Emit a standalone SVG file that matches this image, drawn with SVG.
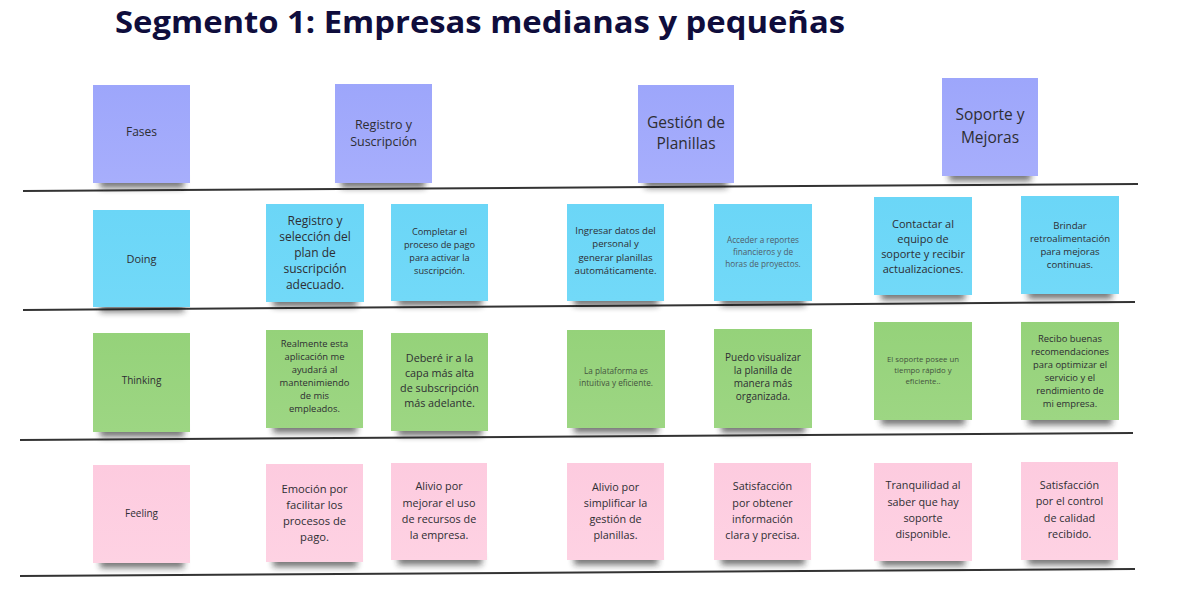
<svg xmlns="http://www.w3.org/2000/svg" width="1179" height="592" viewBox="0 0 1179 592">
<defs>
<filter id="sh" x="-20%" y="-100%" width="140%" height="300%"><feGaussianBlur stdDeviation="3"/></filter>
<linearGradient id="gp" x1="0" y1="0" x2="0" y2="1"><stop offset="0" stop-color="#9da6fb"/><stop offset="1" stop-color="#a7aefc"/></linearGradient>
<linearGradient id="gd" x1="0" y1="0" x2="0" y2="1"><stop offset="0" stop-color="#6bd6f7"/><stop offset="1" stop-color="#72d9f8"/></linearGradient>
<linearGradient id="gt" x1="0" y1="0" x2="0" y2="1"><stop offset="0" stop-color="#95d27a"/><stop offset="1" stop-color="#9dd683"/></linearGradient>
<linearGradient id="gf" x1="0" y1="0" x2="0" y2="1"><stop offset="0" stop-color="#fdcbdf"/><stop offset="1" stop-color="#fed2e3"/></linearGradient>
</defs>
<style>
.title{font-family:"Open Sans","Liberation Sans",sans-serif;font-weight:700;font-size:31px;fill:#0f0d3c}
.t{font-family:"Open Sans","Liberation Sans",sans-serif;fill:#2e2e33;text-anchor:middle}
.sd{fill:#1e1e1e;opacity:.6;filter:url(#sh)}
.ph{fill:url(#gp)}
.do{fill:url(#gd)}
.th{fill:url(#gt)}
.fe{fill:url(#gf)}
.ln{stroke:#333;stroke-width:2;fill:none}
</style>
<rect width="1179" height="592" fill="#fff"/>
<text class="title" x="115" y="33" textLength="730" lengthAdjust="spacingAndGlyphs">Segmento 1: Empresas medianas y pequeñas</text>

<g id="connectors">
<line class="ln" x1="23" y1="191" x2="1138" y2="184"/>
<line class="ln" x1="23" y1="310" x2="1135" y2="302"/>
<line class="ln" x1="20" y1="440" x2="1133" y2="433"/>
<line class="ln" x1="20" y1="576" x2="1135" y2="569"/>
</g>

<!-- Header row -->
<g id="fases"><rect class="sd" x="100" y="176" width="84" height="12"/><rect class="ph" x="93" y="85" width="97" height="98"/>
<text class="t" font-size="12"><tspan x="141.5" y="136">Fases</tspan></text></g>
<g id="registro"><rect class="sd" x="341" y="176" width="84" height="12"/><rect class="ph" x="335" y="84" width="97" height="99"/>
<text class="t" font-size="12.5"><tspan x="383.5" y="129">Registro y</tspan><tspan x="383.5" y="146">Suscripción</tspan></text></g>
<g id="gestion"><rect class="sd" x="645" y="176" width="82" height="12"/><rect class="ph" x="638" y="85" width="96" height="98"/>
<text class="t" font-size="15.5"><tspan x="686" y="128">Gestión de</tspan><tspan x="686" y="149">Planillas</tspan></text></g>
<g id="soporte"><rect class="sd" x="949" y="169" width="82" height="12"/><rect class="ph" x="942" y="78" width="96" height="98"/>
<text class="t" font-size="15.5"><tspan x="990" y="120">Soporte y</tspan><tspan x="990" y="143">Mejoras</tspan></text></g>

<!-- Doing row -->
<g id="doing"><rect class="sd" x="100" y="300" width="84" height="12"/><rect class="do" x="93" y="210" width="97" height="97"/>
<text class="t" font-size="11"><tspan x="141.5" y="263">Doing</tspan></text></g>
<g id="d1"><rect class="sd" x="273" y="295" width="84" height="12"/><rect class="do" x="266" y="204" width="98" height="98"/>
<text class="t" font-size="12"><tspan x="315" y="225">Registro y</tspan><tspan x="315" y="241">selección del</tspan><tspan x="315" y="257">plan de</tspan><tspan x="315" y="273">suscripción</tspan><tspan x="315" y="289">adecuado.</tspan></text></g>
<g id="d2"><rect class="sd" x="398" y="294" width="84" height="12"/><rect class="do" x="391" y="204" width="97" height="97"/>
<text class="t" font-size="9.2"><tspan x="439.5" y="235">Completar el</tspan><tspan x="439.5" y="248">proceso de pago</tspan><tspan x="439.5" y="261">para activar la</tspan><tspan x="439.5" y="274">suscripción.</tspan></text></g>
<g id="d3"><rect class="sd" x="574" y="294" width="84" height="12"/><rect class="do" x="567" y="204" width="97" height="97"/>
<text class="t" font-size="9.6"><tspan x="615.5" y="234">Ingresar datos del</tspan><tspan x="615.5" y="247">personal y</tspan><tspan x="615.5" y="261">generar planillas</tspan><tspan x="615.5" y="274">automáticamente.</tspan></text></g>
<g id="d4"><rect class="sd" x="721" y="294" width="84" height="12"/><rect class="do" x="714" y="204" width="98" height="97"/>
<text class="t" font-size="8.2" style="fill:#4f5d68"><tspan x="763" y="243">Acceder a reportes</tspan><tspan x="763" y="255">financieros y de</tspan><tspan x="763" y="267">horas de proyectos.</tspan></text></g>
<g id="d5"><rect class="sd" x="881" y="288" width="84" height="12"/><rect class="do" x="874" y="197" width="98" height="98"/>
<text class="t" font-size="11"><tspan x="923" y="228">Contactar al</tspan><tspan x="923" y="243">equipo de</tspan><tspan x="923" y="258">soporte y recibir</tspan><tspan x="923" y="273">actualizaciones.</tspan></text></g>
<g id="d6"><rect class="sd" x="1028" y="287" width="84" height="12"/><rect class="do" x="1021" y="196" width="98" height="98"/>
<text class="t" font-size="9.6"><tspan x="1070" y="229">Brindar</tspan><tspan x="1070" y="242">retroalimentación</tspan><tspan x="1070" y="255">para mejoras</tspan><tspan x="1070" y="268">continuas.</tspan></text></g>

<!-- Thinking row -->
<g id="thinking"><rect class="sd" x="100" y="425" width="84" height="12"/><rect class="th" x="93" y="333" width="97" height="99"/>
<text class="t" font-size="10"><tspan x="141.5" y="384">Thinking</tspan></text></g>
<g id="t1"><rect class="sd" x="273" y="421" width="84" height="12"/><rect class="th" x="266" y="330" width="97" height="98"/>
<text class="t" font-size="9.4"><tspan x="314.5" y="347">Realmente esta</tspan><tspan x="314.5" y="360">aplicación me</tspan><tspan x="314.5" y="373">ayudará al</tspan><tspan x="314.5" y="386">mantenimiendo</tspan><tspan x="314.5" y="399">de mis</tspan><tspan x="314.5" y="412">empleados.</tspan></text></g>
<g id="t2"><rect class="sd" x="398" y="424" width="84" height="12"/><rect class="th" x="391" y="333" width="97" height="98"/>
<text class="t" font-size="10.8"><tspan x="439.5" y="362">Deberé ir a la</tspan><tspan x="439.5" y="377">capa más alta</tspan><tspan x="439.5" y="392">de subscripción</tspan><tspan x="439.5" y="407">más adelante.</tspan></text></g>
<g id="t3"><rect class="sd" x="574" y="421" width="84" height="12"/><rect class="th" x="567" y="330" width="98" height="98"/>
<text class="t" font-size="8.2" style="fill:#44533e"><tspan x="616" y="374">La plataforma es</tspan><tspan x="616" y="386">intuitiva y eficiente.</tspan></text></g>
<g id="t4"><rect class="sd" x="721" y="421" width="84" height="12"/><rect class="th" x="714" y="329" width="98" height="99"/>
<text class="t" font-size="10"><tspan x="763" y="361">Puedo visualizar</tspan><tspan x="763" y="374">la planilla de</tspan><tspan x="763" y="387">manera más</tspan><tspan x="763" y="400">organizada.</tspan></text></g>
<g id="t5"><rect class="sd" x="881" y="413" width="84" height="12"/><rect class="th" x="874" y="322" width="98" height="98"/>
<text class="t" font-size="7.8" style="fill:#44533e"><tspan x="923" y="362">El soporte posee un</tspan><tspan x="923" y="373">tiempo rápido y</tspan><tspan x="923" y="384">eficiente..</tspan></text></g>
<g id="t6"><rect class="sd" x="1028" y="413" width="84" height="12"/><rect class="th" x="1021" y="322" width="98" height="98"/>
<text class="t" font-size="9.4"><tspan x="1070" y="342">Recibo buenas</tspan><tspan x="1070" y="355">recomendaciones</tspan><tspan x="1070" y="368">para optimizar el</tspan><tspan x="1070" y="381">servicio y el</tspan><tspan x="1070" y="394">rendimiento de</tspan><tspan x="1070" y="407">mi empresa.</tspan></text></g>

<!-- Feeling row -->
<g id="feeling"><rect class="sd" x="100" y="556" width="84" height="12"/><rect class="fe" x="93" y="465" width="97" height="98"/>
<text class="t" font-size="10"><tspan x="141.5" y="517">Feeling</tspan></text></g>
<g id="f1"><rect class="sd" x="273" y="555" width="84" height="12"/><rect class="fe" x="266" y="464" width="97" height="98"/>
<text class="t" font-size="11.2"><tspan x="314.5" y="493">Emoción por</tspan><tspan x="314.5" y="509">facilitar los</tspan><tspan x="314.5" y="525">procesos de</tspan><tspan x="314.5" y="541">pago.</tspan></text></g>
<g id="f2"><rect class="sd" x="398" y="553" width="84" height="12"/><rect class="fe" x="391" y="463" width="96" height="97"/>
<text class="t" font-size="10.8"><tspan x="439" y="490">Alivio por</tspan><tspan x="439" y="507">mejorar el uso</tspan><tspan x="439" y="523">de recursos de</tspan><tspan x="439" y="539">la empresa.</tspan></text></g>
<g id="f3"><rect class="sd" x="574" y="553" width="84" height="12"/><rect class="fe" x="567" y="463" width="97" height="97"/>
<text class="t" font-size="10.8"><tspan x="615.5" y="491">Alivio por</tspan><tspan x="615.5" y="507">simplificar la</tspan><tspan x="615.5" y="523">gestión de</tspan><tspan x="615.5" y="539">planillas.</tspan></text></g>
<g id="f4"><rect class="sd" x="721" y="553" width="84" height="12"/><rect class="fe" x="714" y="463" width="97" height="97"/>
<text class="t" font-size="10.8"><tspan x="762.5" y="490">Satisfacción</tspan><tspan x="762.5" y="507">por obtener</tspan><tspan x="762.5" y="523">información</tspan><tspan x="762.5" y="539">clara y precisa.</tspan></text></g>
<g id="f5"><rect class="sd" x="881" y="554" width="84" height="12"/><rect class="fe" x="874" y="463" width="98" height="98"/>
<text class="t" font-size="10.8"><tspan x="923" y="489">Tranquilidad al</tspan><tspan x="923" y="506">saber que hay</tspan><tspan x="923" y="522">soporte</tspan><tspan x="923" y="538">disponible.</tspan></text></g>
<g id="f6"><rect class="sd" x="1028" y="553" width="84" height="12"/><rect class="fe" x="1021" y="462" width="97" height="98"/>
<text class="t" font-size="10.8"><tspan x="1069.5" y="489">Satisfacción</tspan><tspan x="1069.5" y="505">por el control</tspan><tspan x="1069.5" y="522">de calidad</tspan><tspan x="1069.5" y="538">recibido.</tspan></text></g>
</svg>
